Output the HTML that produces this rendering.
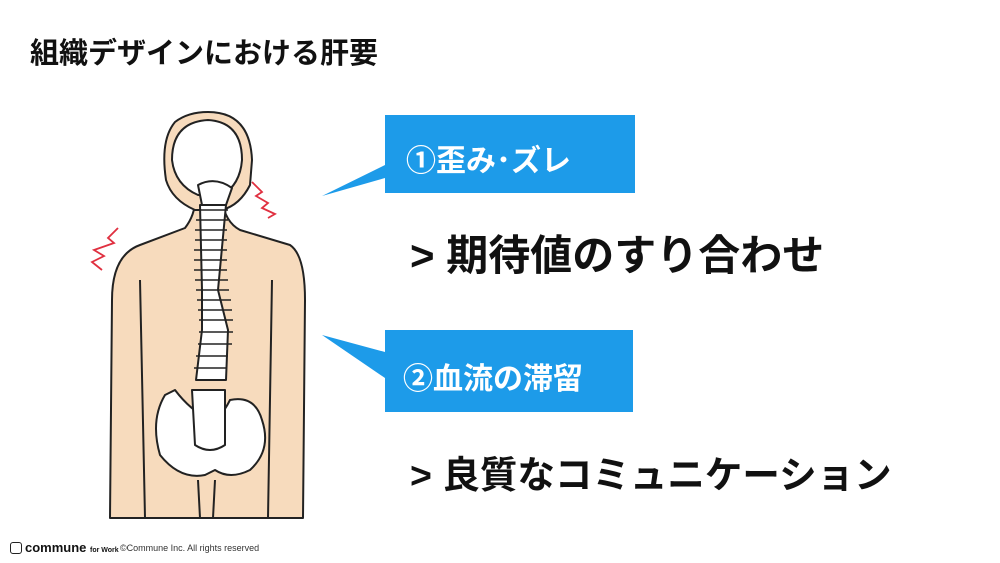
<!DOCTYPE html>
<html><head><meta charset="utf-8"><style>
body{margin:0;width:1000px;height:563px;background:#fff;position:relative;overflow:hidden;font-family:"Liberation Sans","Noto Sans CJK JP",sans-serif;}
.t{position:absolute;white-space:nowrap;font-weight:bold;color:#111}
</style></head><body>
<div class="t" style="left:30px;top:30px;font-size:29px;">組織デザインにおける肝要</div>
<svg style="position:absolute;left:0;top:0" width="1000" height="563">
 <g stroke="#222" stroke-width="2" stroke-linejoin="round">
  <path d="M110,518 L112,300 Q112,255 140,245 L185,228 Q195,215 195,200 L222,200 Q225,222 240,230 L290,245 Q305,255 305,300 L303,518 Z" fill="#f7dbbd"/>
  <path d="M208,112 Q250,112 252,160 L250,185 Q240,205 222,210 L195,210 Q172,200 166,180 Q160,140 175,122 Q188,112 208,112 Z" fill="#f7dbbd"/>
  <path d="M208,120 Q242,122 242,160 Q240,185 222,195 L198,195 Q175,185 172,160 Q172,122 208,120 Z" fill="#fff"/>
  <path d="M140,280 L145,518 M272,280 L268,518 M198,480 L200,518 M215,480 L213,518" fill="none"/>
  <g fill="#fff">
   <path d="M198,185 Q215,176 232,188 L226,205 L202,205 Z"/>
   <path d="M200,205 L226,205 L218,290 L228,330 L226,380 L196,380 L202,330 L202,290 Z"/>
   <path d="M165,395 Q150,420 160,455 Q180,480 205,475 L215,470 Q230,480 250,470 Q272,450 262,420 Q255,395 230,400 Q220,420 210,420 Q190,410 175,390 Z"/>
   <path d="M192,390 L225,390 L225,445 Q210,455 195,445 Z"/>
  </g>
  <g stroke-width="1.5">
   <path d="M196,210h32M196,220h32M195,230h32M195,240h32M194,250h33M194,260h33M194,270h33M195,280h33M196,290h33M197,300h34M198,310h34M199,320h34M199,332h34M198,344h34M196,356h32M194,368h32" />
  </g>
 </g>
 <g stroke="#e03040" stroke-width="1.8" fill="none">
  <path d="M252,182 L262,192 L256,196 L268,203 L262,208 L275,214 L268,218"/>
  <path d="M118,228 L108,238 L114,243 L94,250 L104,256 L92,262 L102,270"/>
 </g>
 <path d="M385,115 H635 V193 H385 V178 L322,196 L385,165 Z" fill="#1d9be9"/>
 <path d="M385,330 H633 V412 H385 V378 L322,335 L385,352 Z" fill="#1d9be9"/>
</svg>
<div class="t" style="left:406px;top:136px;font-size:30px;color:#fff;">①歪み･ズレ</div>
<div class="t" style="left:403px;top:354px;font-size:30px;color:#fff;">②血流の滞留</div>
<div class="t" style="left:410px;top:222px;font-size:42px;">&gt; 期待値のすり合わせ</div>
<div class="t" style="left:410px;top:444px;font-size:37.5px;">&gt; 良質なコミュニケーション</div>
<div style="position:absolute;left:10px;top:542px;width:10px;height:10px;border:1.5px solid #222;border-radius:3px;"></div>
<div class="t" style="left:25px;top:540px;font-size:13px;">commune <span style="font-size:7px">for Work</span></div>
<div class="t" style="left:120px;top:543px;font-size:9px;font-weight:normal;color:#333">©Commune Inc. All rights reserved</div>
</body></html>
